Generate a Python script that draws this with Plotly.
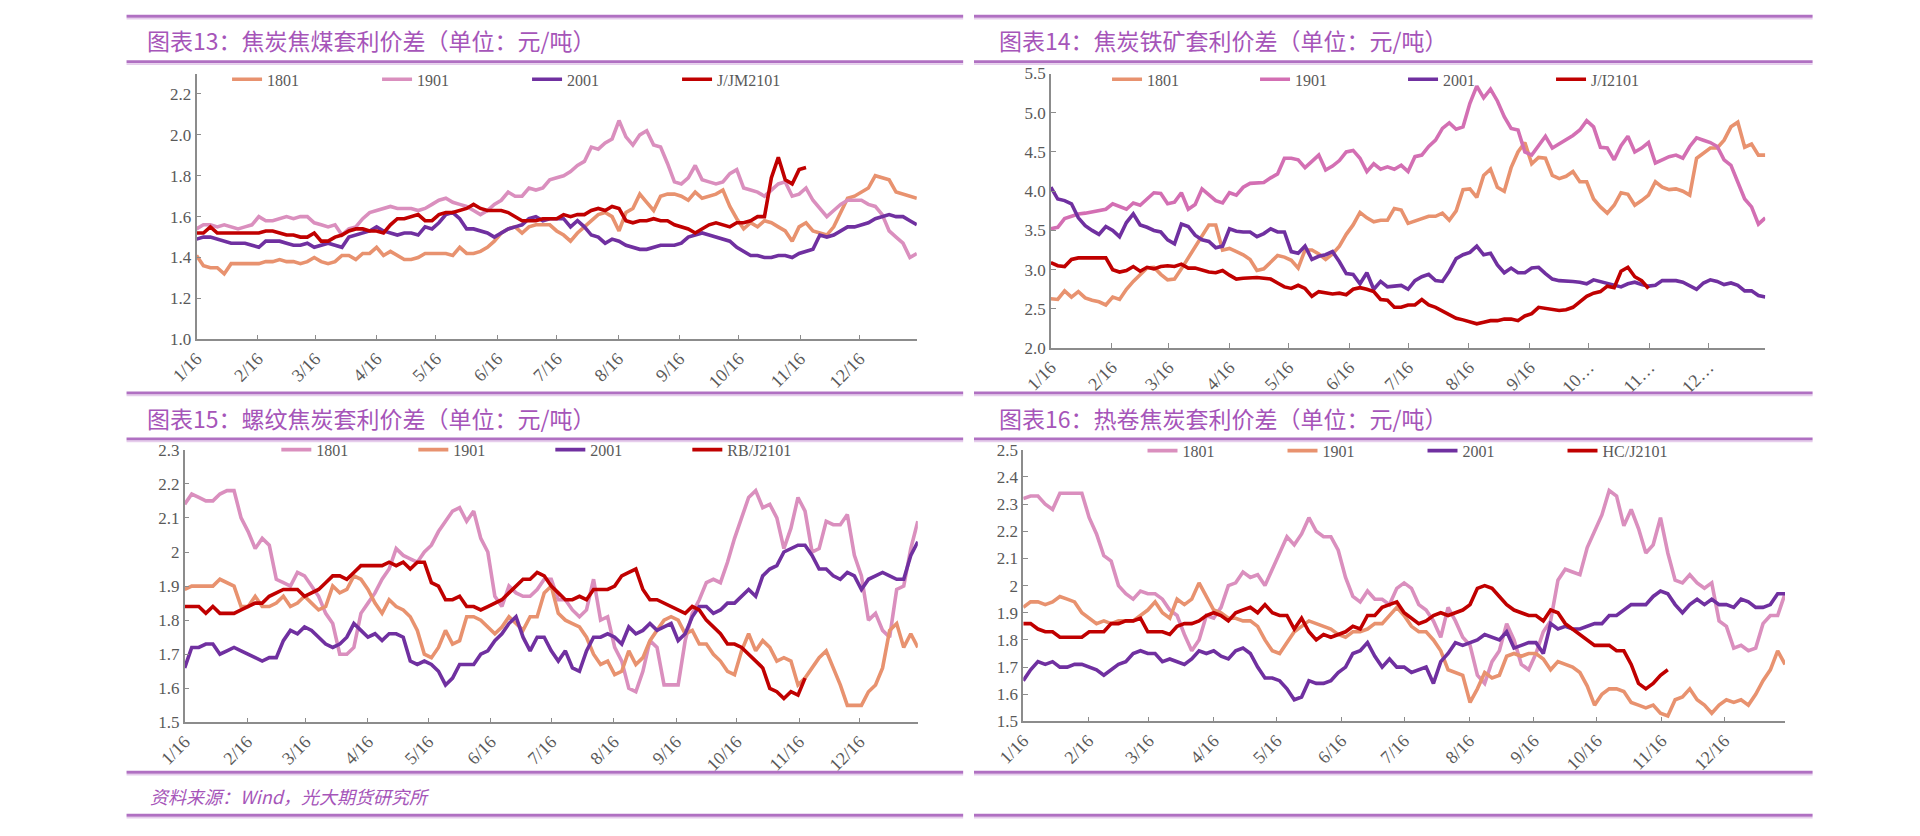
import pandas as pd
import plotly.graph_objects as go

W, H = 1920, 836

# semi-weekly sampling grid on a shared month/day axis (1/16 .. next 1/14)
dates = pd.date_range("2020-01-16", periods=105, freq="84h")

tick_vals = [f"2020-{m:02d}-16" for m in range(1, 13)]
tick_text = [f"{m}/16" for m in range(1, 13)]
tick_text_tr = ["1/16", "2/16", "3/16", "4/16", "5/16", "6/16", "7/16", "8/16", "9/16", "10…", "11…", "12…"]

# ---------- 图表13: 焦炭焦煤套利价差 ----------
c13_names = ["1801", "1901", "2001", "J/JM2101"]
c13_1801 = [1.41, 1.36, 1.35, 1.35, 1.32, 1.37, 1.37, 1.37, 1.37, 1.37, 1.38, 1.38, 1.39, 1.38, 1.38, 1.37,
            1.38, 1.40, 1.38, 1.37, 1.38, 1.41, 1.41, 1.39, 1.42, 1.42, 1.45, 1.41, 1.43, 1.41, 1.39, 1.39,
            1.40, 1.42, 1.42, 1.42, 1.42, 1.41, 1.45, 1.42, 1.42, 1.43, 1.45, 1.48, 1.52, 1.54, 1.55, 1.52,
            1.55, 1.56, 1.56, 1.56, 1.53, 1.51, 1.48, 1.52, 1.55, 1.58, 1.61, 1.62, 1.60, 1.53, 1.62, 1.64,
            1.71, 1.67, 1.63, 1.70, 1.71, 1.71, 1.70, 1.68, 1.72, 1.69, 1.70, 1.71, 1.73, 1.65, 1.59, 1.54,
            1.57, 1.55, 1.58, 1.57, 1.55, 1.53, 1.48, 1.55, 1.57, 1.53, 1.52, 1.51, 1.55, 1.62, 1.69, 1.70,
            1.72, 1.74, 1.80, 1.79, 1.78, 1.72, 1.71, 1.70, 1.69]
c13_1901 = [1.54, 1.56, 1.56, 1.55, 1.56, 1.55, 1.54, 1.55, 1.56, 1.60, 1.58, 1.58, 1.59, 1.60, 1.59, 1.60,
            1.60, 1.57, 1.56, 1.55, 1.56, 1.51, 1.54, 1.55, 1.59, 1.62, 1.63, 1.64, 1.65, 1.64, 1.64, 1.64,
            1.63, 1.64, 1.66, 1.68, 1.69, 1.67, 1.66, 1.65, 1.63, 1.61, 1.63, 1.66, 1.68, 1.72, 1.70, 1.70,
            1.74, 1.73, 1.74, 1.78, 1.79, 1.80, 1.82, 1.85, 1.87, 1.94, 1.93, 1.96, 1.98, 2.07, 1.99, 1.95,
            2.00, 2.02, 1.95, 1.94, 1.86, 1.77, 1.76, 1.79, 1.85, 1.78, 1.77, 1.76, 1.77, 1.81, 1.83, 1.74,
            1.73, 1.72, 1.70, 1.73, 1.76, 1.77, 1.70, 1.71, 1.74, 1.68, 1.64, 1.60, 1.63, 1.66, 1.68, 1.68,
            1.68, 1.66, 1.65, 1.61, 1.53, 1.50, 1.47, 1.40, 1.42]
c13_2001 = [1.49, 1.50, 1.50, 1.49, 1.48, 1.47, 1.47, 1.47, 1.46, 1.45, 1.48, 1.48, 1.48, 1.47, 1.46, 1.46,
            1.47, 1.45, 1.46, 1.47, 1.46, 1.45, 1.50, 1.51, 1.52, 1.53, 1.55, 1.53, 1.52, 1.51, 1.52, 1.52,
            1.51, 1.55, 1.54, 1.57, 1.61, 1.62, 1.59, 1.54, 1.54, 1.53, 1.52, 1.50, 1.52, 1.54, 1.55, 1.56,
            1.59, 1.60, 1.58, 1.59, 1.59, 1.59, 1.55, 1.58, 1.55, 1.51, 1.50, 1.47, 1.49, 1.48, 1.46, 1.45,
            1.44, 1.44, 1.45, 1.46, 1.46, 1.46, 1.47, 1.50, 1.51, 1.52, 1.51, 1.50, 1.49, 1.48, 1.45, 1.43,
            1.41, 1.41, 1.40, 1.40, 1.41, 1.41, 1.40, 1.42, 1.43, 1.44, 1.51, 1.50, 1.51, 1.53, 1.55, 1.55,
            1.56, 1.57, 1.59, 1.60, 1.61, 1.60, 1.60, 1.58, 1.56]
c13_2101 = [1.52, 1.52, 1.55, 1.52, 1.52, 1.52, 1.52, 1.52, 1.52, 1.52, 1.53, 1.53, 1.52, 1.51, 1.51, 1.50,
            1.50, 1.52, 1.48, 1.48, 1.50, 1.51, 1.53, 1.54, 1.54, 1.53, 1.53, 1.52, 1.56, 1.59, 1.59, 1.60,
            1.61, 1.58, 1.58, 1.61, 1.62, 1.62, 1.63, 1.64, 1.66, 1.64, 1.63, 1.63, 1.63, 1.62, 1.60, 1.58,
            1.58, 1.58, 1.59, 1.59, 1.59, 1.61, 1.60, 1.61, 1.61, 1.63, 1.64, 1.63, 1.65, 1.64, 1.58, 1.57,
            1.58, 1.58, 1.59, 1.58, 1.58, 1.56, 1.55, 1.54, 1.52, 1.54, 1.56, 1.57, 1.56, 1.55, 1.57, 1.57,
            1.58, 1.60, 1.60, 1.79, 1.89, 1.78, 1.76, 1.83, 1.84]

# ---------- 图表14: 焦炭铁矿套利价差 ----------
c14_names = ["1801", "1901", "2001", "J/I2101"]
c14_1801 = [2.63, 2.62, 2.73, 2.65, 2.72, 2.64, 2.61, 2.59, 2.55, 2.65, 2.62, 2.75, 2.85, 2.93, 3.02, 3.03,
            2.94, 2.87, 2.88, 3.01, 3.15, 3.30, 3.42, 3.57, 3.57, 3.25, 3.27, 3.23, 3.19, 3.13, 2.99, 3.01,
            3.09, 3.18, 3.16, 3.12, 3.02, 3.25, 3.25, 3.20, 3.13, 3.20, 3.30, 3.45, 3.57, 3.73, 3.66, 3.61,
            3.63, 3.63, 3.78, 3.76, 3.59, 3.62, 3.65, 3.68, 3.68, 3.72, 3.63, 3.75, 4.02, 4.03, 3.92, 4.20,
            4.28, 4.05, 4.00, 4.30, 4.50, 4.62, 4.35, 4.43, 4.42, 4.20, 4.16, 4.19, 4.25, 4.12, 4.12, 3.90,
            3.80, 3.72, 3.82, 3.98, 3.96, 3.82, 3.88, 3.95, 4.12, 4.05, 4.02, 4.03, 4.00, 3.95, 4.42, 4.48,
            4.55, 4.55, 4.65, 4.82, 4.88, 4.56, 4.60, 4.46, 4.46]
c14_1901 = [3.52, 3.54, 3.65, 3.68, 3.71, 3.72, 3.74, 3.75, 3.77, 3.84, 3.80, 3.77, 3.85, 3.82, 3.90, 3.98,
            3.97, 3.84, 3.86, 3.98, 3.77, 3.83, 4.03, 3.96, 3.88, 3.85, 3.98, 3.95, 4.05, 4.10, 4.11, 4.11,
            4.17, 4.22, 4.42, 4.42, 4.40, 4.30, 4.38, 4.46, 4.27, 4.32, 4.39, 4.50, 4.52, 4.42, 4.25, 4.35,
            4.28, 4.31, 4.28, 4.33, 4.25, 4.44, 4.46, 4.57, 4.65, 4.80, 4.87, 4.79, 4.82, 5.12, 5.34, 5.19,
            5.30, 5.15, 4.95, 4.80, 4.78, 4.50, 4.46, 4.58, 4.70, 4.55, 4.60, 4.66, 4.71, 4.78, 4.90, 4.82,
            4.56, 4.55, 4.40, 4.58, 4.70, 4.50, 4.55, 4.62, 4.36, 4.40, 4.44, 4.46, 4.42, 4.57, 4.68, 4.65,
            4.62, 4.57, 4.40, 4.33, 4.11, 3.90, 3.80, 3.58, 3.66]
c14_2001 = [4.05, 3.90, 3.88, 3.84, 3.66, 3.56, 3.50, 3.45, 3.55, 3.50, 3.42, 3.60, 3.71, 3.57, 3.54, 3.50,
            3.48, 3.38, 3.33, 3.58, 3.55, 3.44, 3.38, 3.36, 3.28, 3.30, 3.52, 3.49, 3.48, 3.48, 3.42, 3.46,
            3.52, 3.48, 3.48, 3.23, 3.21, 3.30, 3.13, 3.17, 3.19, 3.23, 3.10, 2.95, 2.94, 2.82, 2.96, 2.75,
            2.85, 2.78, 2.79, 2.80, 2.75, 2.86, 2.91, 2.94, 2.86, 2.85, 2.98, 3.14, 3.19, 3.22, 3.30, 3.19,
            3.21, 3.06, 2.96, 3.02, 2.96, 2.96, 3.02, 3.03, 2.95, 2.88, 2.86, 2.86, 2.85, 2.84, 2.82, 2.87,
            2.85, 2.82, 2.80, 2.78, 2.82, 2.84, 2.81, 2.79, 2.80, 2.86, 2.86, 2.86, 2.84, 2.80, 2.75, 2.83,
            2.87, 2.85, 2.81, 2.83, 2.80, 2.73, 2.73, 2.67, 2.65]
c14_2101 = [3.09, 3.05, 3.04, 3.13, 3.15, 3.15, 3.15, 3.15, 3.15, 3.00, 2.97, 2.99, 3.04, 2.98, 3.03, 3.01,
            3.04, 3.05, 3.04, 3.07, 3.02, 3.02, 2.99, 2.97, 2.96, 2.99, 2.93, 2.88, 2.89, 2.90, 2.90, 2.89,
            2.88, 2.83, 2.78, 2.76, 2.80, 2.76, 2.66, 2.72, 2.71, 2.69, 2.70, 2.68, 2.75, 2.77, 2.75, 2.72,
            2.62, 2.61, 2.52, 2.52, 2.55, 2.55, 2.62, 2.55, 2.52, 2.47, 2.42, 2.38, 2.36, 2.34, 2.31, 2.33,
            2.35, 2.35, 2.37, 2.37, 2.35, 2.41, 2.44, 2.52, 2.51, 2.49, 2.48, 2.49, 2.52, 2.59, 2.66, 2.70,
            2.72, 2.79, 2.77, 2.98, 3.03, 2.91, 2.86, 2.76]

# ---------- 图表15: 螺纹焦炭套利价差 ----------
c15_names = ["1801", "1901", "2001", "RB/J2101"]
c15_1801 = [2.14, 2.17, 2.16, 2.15, 2.15, 2.17, 2.18, 2.18, 2.10, 2.06, 2.01, 2.04, 2.02, 1.92, 1.91, 1.90,
            1.94, 1.93, 1.90, 1.87, 1.82, 1.79, 1.70, 1.70, 1.72, 1.82, 1.85, 1.88, 1.92, 1.95, 2.01, 1.99,
            1.98, 1.97, 2.00, 2.02, 2.06, 2.09, 2.12, 2.13, 2.09, 2.12, 2.04, 2.00, 1.87, 1.84, 1.90, 1.88,
            1.87, 1.87, 1.89, 1.92, 1.92, 1.86, 1.86, 1.83, 1.81, 1.83, 1.92, 1.80, 1.81, 1.72, 1.68, 1.60,
            1.59, 1.65, 1.74, 1.72, 1.61, 1.61, 1.61, 1.74, 1.82, 1.86, 1.91, 1.92, 1.91, 1.97, 2.04, 2.10,
            2.16, 2.18, 2.13, 2.14, 2.10, 2.01, 2.07, 2.16, 2.12, 2.00, 2.01, 2.09, 2.08, 2.08, 2.11, 1.99,
            1.93, 1.80, 1.82, 1.77, 1.75, 1.89, 1.90, 2.01, 2.09]
c15_1901 = [1.89, 1.90, 1.90, 1.90, 1.90, 1.92, 1.91, 1.90, 1.84, 1.84, 1.87, 1.84, 1.84, 1.85, 1.87, 1.84,
            1.85, 1.87, 1.85, 1.83, 1.84, 1.90, 1.88, 1.89, 1.93, 1.92, 1.89, 1.85, 1.82, 1.86, 1.84, 1.83,
            1.81, 1.77, 1.70, 1.69, 1.72, 1.77, 1.73, 1.74, 1.81, 1.81, 1.80, 1.78, 1.76, 1.78, 1.81, 1.79,
            1.77, 1.81, 1.81, 1.88, 1.90, 1.82, 1.80, 1.79, 1.78, 1.75, 1.70, 1.67, 1.68, 1.64, 1.65, 1.71,
            1.67, 1.69, 1.74, 1.77, 1.80, 1.81, 1.80, 1.76, 1.77, 1.73, 1.73, 1.70, 1.68, 1.65, 1.64, 1.71,
            1.76, 1.71, 1.74, 1.72, 1.68, 1.69, 1.68, 1.61, 1.63, 1.66, 1.69, 1.71, 1.66, 1.61, 1.55, 1.55,
            1.55, 1.59, 1.61, 1.66, 1.77, 1.79, 1.72, 1.76, 1.72]
c15_2001 = [1.66, 1.72, 1.72, 1.73, 1.73, 1.70, 1.71, 1.72, 1.71, 1.70, 1.69, 1.68, 1.69, 1.69, 1.74, 1.77,
            1.76, 1.78, 1.77, 1.75, 1.73, 1.72, 1.73, 1.75, 1.79, 1.77, 1.75, 1.76, 1.74, 1.76, 1.76, 1.75,
            1.68, 1.67, 1.68, 1.67, 1.65, 1.61, 1.63, 1.67, 1.67, 1.67, 1.70, 1.71, 1.74, 1.76, 1.79, 1.81,
            1.75, 1.71, 1.75, 1.75, 1.71, 1.68, 1.71, 1.66, 1.65, 1.71, 1.75, 1.75, 1.76, 1.75, 1.73, 1.78,
            1.76, 1.77, 1.79, 1.77, 1.78, 1.79, 1.74, 1.76, 1.81, 1.84, 1.84, 1.82, 1.83, 1.85, 1.85, 1.87,
            1.89, 1.87, 1.93, 1.95, 1.96, 2.00, 2.01, 2.02, 2.02, 1.99, 1.95, 1.95, 1.93, 1.92, 1.94, 1.93,
            1.89, 1.92, 1.93, 1.94, 1.93, 1.92, 1.92, 1.99, 2.03]
c15_2101 = [1.84, 1.84, 1.84, 1.82, 1.84, 1.82, 1.82, 1.82, 1.83, 1.84, 1.85, 1.85, 1.87, 1.88, 1.89, 1.89,
            1.89, 1.87, 1.88, 1.89, 1.91, 1.93, 1.93, 1.92, 1.94, 1.96, 1.96, 1.96, 1.96, 1.97, 1.96, 1.97,
            1.95, 1.97, 1.97, 1.91, 1.90, 1.86, 1.86, 1.87, 1.84, 1.84, 1.83, 1.84, 1.85, 1.86, 1.88, 1.90,
            1.92, 1.92, 1.94, 1.93, 1.90, 1.88, 1.86, 1.86, 1.87, 1.86, 1.89, 1.89, 1.89, 1.90, 1.93, 1.94,
            1.95, 1.89, 1.86, 1.86, 1.85, 1.84, 1.83, 1.82, 1.84, 1.83, 1.80, 1.78, 1.76, 1.73, 1.73, 1.72,
            1.70, 1.68, 1.66, 1.60, 1.59, 1.57, 1.59, 1.58, 1.63]

# ---------- 图表16: 热卷焦炭套利价差 ----------
c16_names = ["1801", "1901", "2001", "HC/J2101"]
c16_1801 = [2.32, 2.33, 2.33, 2.30, 2.28, 2.34, 2.34, 2.34, 2.34, 2.25, 2.19, 2.11, 2.09, 2.00, 1.97, 1.95,
            1.98, 1.97, 1.97, 1.95, 1.91, 1.89, 1.82, 1.76, 1.80, 1.89, 1.88, 1.92, 2.00, 2.01, 2.05, 2.03,
            2.04, 2.00, 2.06, 2.12, 2.18, 2.15, 2.19, 2.25, 2.20, 2.18, 2.18, 2.13, 2.03, 1.96, 1.94, 1.98,
            1.95, 1.95, 1.93, 1.99, 2.01, 1.99, 1.93, 1.91, 1.87, 1.81, 1.92, 1.87, 1.81, 1.78, 1.67, 1.64,
            1.72, 1.76, 1.86, 1.80, 1.71, 1.69, 1.75, 1.83, 1.87, 2.02, 2.06, 2.05, 2.04, 2.14, 2.20, 2.26,
            2.35, 2.33, 2.22, 2.28, 2.21, 2.12, 2.15, 2.25, 2.12, 2.02, 2.01, 2.04, 2.01, 1.99, 2.01, 1.87,
            1.85, 1.77, 1.78, 1.76, 1.77, 1.86, 1.89, 1.89, 1.97]
c16_1901 = [1.92, 1.94, 1.94, 1.93, 1.94, 1.96, 1.95, 1.94, 1.90, 1.88, 1.86, 1.87, 1.86, 1.87, 1.87, 1.87,
            1.89, 1.91, 1.94, 1.90, 1.88, 1.95, 1.93, 1.95, 2.01, 1.96, 1.91, 1.90, 1.88, 1.88, 1.87, 1.87,
            1.85, 1.80, 1.76, 1.75, 1.79, 1.83, 1.85, 1.87, 1.86, 1.85, 1.84, 1.82, 1.81, 1.83, 1.83, 1.84,
            1.86, 1.86, 1.89, 1.92, 1.89, 1.85, 1.83, 1.83, 1.80, 1.76, 1.69, 1.68, 1.67, 1.57, 1.62, 1.68,
            1.66, 1.67, 1.74, 1.75, 1.74, 1.75, 1.75, 1.73, 1.69, 1.72, 1.71, 1.70, 1.68, 1.63, 1.56, 1.60,
            1.62, 1.62, 1.61, 1.57, 1.56, 1.55, 1.56, 1.53, 1.52, 1.58, 1.59, 1.62, 1.58, 1.56, 1.53, 1.56,
            1.58, 1.57, 1.58, 1.56, 1.60, 1.65, 1.69, 1.76, 1.71]
c16_2001 = [1.65, 1.69, 1.72, 1.71, 1.72, 1.70, 1.70, 1.71, 1.71, 1.70, 1.69, 1.67, 1.69, 1.71, 1.72, 1.75,
            1.76, 1.75, 1.75, 1.72, 1.73, 1.72, 1.71, 1.73, 1.76, 1.75, 1.76, 1.74, 1.73, 1.76, 1.77, 1.75,
            1.70, 1.66, 1.66, 1.65, 1.62, 1.58, 1.59, 1.65, 1.64, 1.64, 1.65, 1.68, 1.70, 1.75, 1.76, 1.79,
            1.74, 1.70, 1.73, 1.70, 1.70, 1.68, 1.69, 1.70, 1.64, 1.72, 1.75, 1.79, 1.78, 1.79, 1.80, 1.82,
            1.81, 1.80, 1.83, 1.77, 1.78, 1.79, 1.79, 1.75, 1.86, 1.84, 1.85, 1.84, 1.84, 1.85, 1.86, 1.86,
            1.89, 1.89, 1.91, 1.93, 1.93, 1.93, 1.96, 1.98, 1.97, 1.93, 1.90, 1.93, 1.95, 1.93, 1.95, 1.93,
            1.93, 1.92, 1.95, 1.94, 1.92, 1.92, 1.93, 1.97, 1.97]
c16_2101 = [1.86, 1.86, 1.84, 1.83, 1.83, 1.81, 1.81, 1.81, 1.81, 1.83, 1.83, 1.83, 1.86, 1.86, 1.87, 1.87,
            1.88, 1.83, 1.83, 1.83, 1.82, 1.85, 1.86, 1.86, 1.87, 1.89, 1.90, 1.89, 1.87, 1.90, 1.91, 1.92,
            1.90, 1.93, 1.90, 1.89, 1.89, 1.84, 1.88, 1.83, 1.80, 1.82, 1.81, 1.82, 1.83, 1.85, 1.84, 1.89,
            1.89, 1.92, 1.93, 1.94, 1.90, 1.88, 1.86, 1.87, 1.89, 1.90, 1.89, 1.90, 1.91, 1.93, 1.99, 2.00,
            1.99, 1.96, 1.93, 1.91, 1.90, 1.89, 1.89, 1.87, 1.91, 1.90, 1.86, 1.84, 1.82, 1.80, 1.78, 1.78,
            1.78, 1.76, 1.76, 1.71, 1.64, 1.62, 1.64, 1.67, 1.69]

SALMON = "#E8926F"
LPINK = "#DA8FBE"
MPINK = "#D36FB3"
PURPLE = "#7030A0"
RED = "#C00000"
TITLE_C = "#A655B9"
AX_C = "#8C8C8C"
TXT_C = "#595959"
SERIF = "Liberation Serif, Times New Roman, serif"
CJK = "Noto Sans CJK SC"

charts = [
    dict(series=[c13_1801, c13_1901, c13_2001, c13_2101], names=c13_names,
         colors=[SALMON, LPINK, PURPLE, RED], xd=[171, 902], yd=[66, 338], yr=[1.0, 2.3], dt=0.2,
         fmt=".1f", ttext=tick_text, leg=[202, 72], ew=105),
    dict(series=[c14_1801, c14_1901, c14_2001, c14_2101], names=c14_names,
         colors=[SALMON, MPINK, PURPLE, RED], xd=[1038, 1763], yd=[66, 347], yr=[2.0, 5.5], dt=0.5,
         fmt=".1f", ttext=tick_text_tr, leg=[1095, 72], ew=103),
    dict(series=[c15_1801, c15_1901, c15_2001, c15_2101], names=c15_names,
         colors=[LPINK, SALMON, PURPLE, RED], xd=[159, 903], yd=[451, 730], yr=[1.5, 2.3], dt=0.1,
         fmt="", ttext=tick_text, leg=[252, 451], ew=92),
    dict(series=[c16_1801, c16_1901, c16_2001, c16_2101], names=c16_names,
         colors=[LPINK, SALMON, PURPLE, RED], xd=[1010, 1783], yd=[451, 729], yr=[1.5, 2.5], dt=0.1,
         fmt="", ttext=tick_text, leg=[1131, 452], ew=95),
]

fig = go.Figure()
layout = dict(width=W, height=H, margin=dict(l=0, r=0, t=0, b=0),
              paper_bgcolor="white", plot_bgcolor="white", showlegend=True)

for i, c in enumerate(charts):
    n = i + 1
    xa = "x" if n == 1 else f"x{n}"
    ya = "y" if n == 1 else f"y{n}"
    lg = "legend" if n == 1 else f"legend{n}"
    for s, nm, col in zip(c["series"], c["names"], c["colors"]):
        fig.add_trace(go.Scatter(x=dates[:len(s)], y=s, name=nm, mode="lines",
                                 line=dict(color=col, width=3.6), xaxis=xa, yaxis=ya,
                                 legend=lg, hoverinfo="skip"))
    y0, y1 = c["yr"]
    nt = int(round((y1 - y0) / c["dt"]))
    yt = [round(y0 + k * c["dt"], 2) for k in range(nt + 1)]
    if c["fmt"]:
        ytt = [f"{v:.1f}" for v in yt]
    else:
        ytt = [("%g" % v) for v in yt]
    layout["xaxis" if n == 1 else f"xaxis{n}"] = dict(
        domain=[c["xd"][0] / W, c["xd"][1] / W], anchor=ya,
        type="date", range=["2020-01-16", "2021-01-14"],
        tickvals=tick_vals, ticktext=c["ttext"], tickangle=-45,
        showline=True, linecolor=AX_C, linewidth=1.5, ticks="inside", ticklen=5,
        tickcolor=AX_C, showgrid=False, zeroline=False,
        tickfont=dict(family=SERIF, size=18, color=TXT_C))
    layout["yaxis" if n == 1 else f"yaxis{n}"] = dict(
        domain=[1 - c["yd"][1] / H, 1 - c["yd"][0] / H], anchor=xa,
        range=[y0, y1], tickvals=yt, ticktext=ytt,
        showline=True, linecolor=AX_C, linewidth=1.5, ticks="inside", ticklen=5,
        tickcolor=AX_C, showgrid=False, zeroline=False,
        tickfont=dict(family=SERIF, size=17, color=TXT_C))
    layout[lg] = dict(orientation="h", x=c["leg"][0] / W, y=1 - c["leg"][1] / H,
                      xanchor="left", yanchor="middle", bgcolor="rgba(0,0,0,0)",
                      font=dict(family=SERIF, size=16, color=TXT_C),
                      entrywidth=c["ew"], entrywidthmode="pixels", itemwidth=30,
                      tracegroupgap=0)

fig.update_layout(**layout)

# separator rules
shapes = []
for (xl, xr) in [(100, 949), (960, 1811)]:
    for yy in [7.5, 54, 393, 440, 781, 825]:
        shapes.append(dict(type="line", xref="paper", yref="paper", x0=xl / W, x1=xr / W,
                           y0=1 - yy / H, y1=1 - yy / H, line=dict(color="#B070C2", width=3)))
        shapes.append(dict(type="line", xref="paper", yref="paper", x0=xl / W, x1=xr / W,
                           y0=1 - (yy + 2.5) / H, y1=1 - (yy + 2.5) / H,
                           line=dict(color="#E6CDEC", width=1.5)))
fig.update_layout(shapes=shapes)

titles = [("图表13：焦炭焦煤套利价差（单位：元/吨）", 119, 32),
          ("图表14：焦炭铁矿套利价差（单位：元/吨）", 983, 32),
          ("图表15：螺纹焦炭套利价差（单位：元/吨）", 119, 418),
          ("图表16：热卷焦炭套利价差（单位：元/吨）", 983, 418)]
for t, x, y in titles:
    fig.add_annotation(text=t, xref="paper", yref="paper", x=x / W, y=1 - y / H,
                       xanchor="left", yanchor="middle", showarrow=False,
                       font=dict(family=CJK, size=23, color=TITLE_C))
fig.add_annotation(text="资料来源：Wind，光大期货研究所", xref="paper", yref="paper",
                   x=122 / W, y=1 - 805 / H, xanchor="left", yanchor="middle", showarrow=False,
                   font=dict(family=CJK, size=18, color=TITLE_C, style="italic"))

fig.write_html("out.html")
